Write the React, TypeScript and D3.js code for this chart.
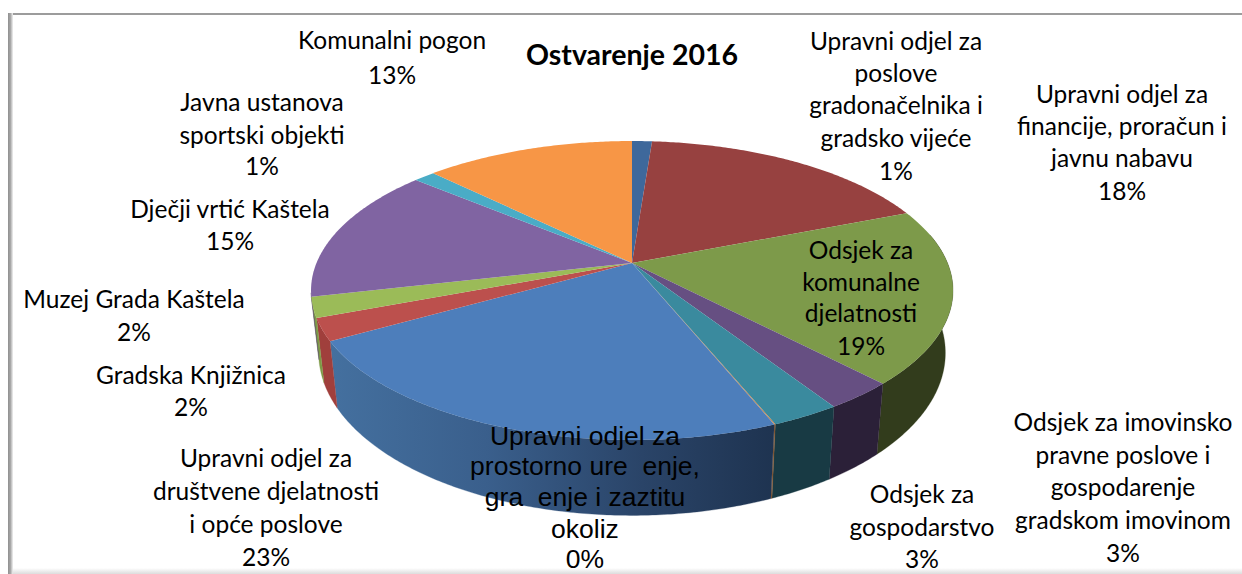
import React from "react";
import * as d3 from "d3";

const W = 1242;
const H = 574;

const categories = [
  "Upravni odjel za poslove gradonačelnika i gradsko vijeće",
  "Upravni odjel za financije, proračun i javnu nabavu",
  "Odsjek za komunalne djelatnosti",
  "Odsjek za imovinsko pravne poslove i gospodarenje gradskom imovinom",
  "Odsjek za gospodarstvo",
  "Upravni odjel za prostorno ure enje, gra enje i zaztitu okoliz",
  "Upravni odjel za društvene djelatnosti i opće poslove",
  "Gradska Knjižnica",
  "Muzej Grada Kaštela",
  "Dječji vrtić Kaštela",
  "Javna ustanova sportski objekti",
  "Komunalni pogon",
];
const values = [1.2, 17.8, 18.9, 3.0, 2.95, 0.05, 22.9, 2.4, 2.2, 14.7, 1.3, 12.6];
const topColors = ["#3e689b", "#974140", "#7d9a4a", "#664f82", "#3a8a9e", "#c8803f", "#4d7ebb", "#bc504d", "#9bbb58", "#8064a2", "#4aacc6", "#f79646"];
const wallColors = ["#2a4668", "#652b2b", "#323c1c", "#2b2038", "#183a44", "#8a5a30", "url(#blueWall)", "#a03f3c", "#7d9a46", "#553f70", "#2f7285", "#a6642e"];

const calibri = "Lato, Carlito, sans-serif";
const arial = "'Liberation Sans', Arial, sans-serif";

type Lbl = { x: number; ys: number[]; lines: string[]; font?: string };
const labels: Lbl[] = [
  { x: 392, ys: [43, 78], lines: ["Komunalni pogon", "13%"] },
  { x: 262, ys: [105, 138, 169], lines: ["Javna ustanova", "sportski objekti", "1%"] },
  { x: 230, ys: [212, 244], lines: ["Dječji vrtić Kaštela", "15%"] },
  { x: 134, ys: [302, 335], lines: ["Muzej Grada Kaštela", "2%"] },
  { x: 191, ys: [378, 410], lines: ["Gradska Knjižnica", "2%"] },
  { x: 266, ys: [461, 494, 527, 560], lines: ["Upravni odjel za", "društvene djelatnosti", "i opće poslove", "23%"] },
  { x: 585, ys: [438, 468, 499, 531, 561], lines: ["Upravni odjel za", "prostorno ure  enje,", "gra  enje i zaztitu", "okoliz", "0%"], font: arial },
  { x: 922, ys: [497, 530, 562], lines: ["Odsjek za", "gospodarstvo", "3%"] },
  { x: 1123, ys: [425, 458, 490, 523, 556], lines: ["Odsjek za imovinsko", "pravne poslove i", "gospodarenje", "gradskom imovinom", "3%"] },
  { x: 1122, ys: [97, 129, 161, 194], lines: ["Upravni odjel za", "financije, proračun i", "javnu nabavu", "18%"] },
  { x: 896, ys: [44, 76, 108, 141, 174], lines: ["Upravni odjel za", "poslove", "gradonačelnika i", "gradsko vijeće", "1%"] },
  { x: 861, ys: [253, 285, 316, 349], lines: ["Odsjek za", "komunalne", "djelatnosti", "19%"] },
];

const CX = 632;
const K = 0.184;
const topFace = { cy: 263, rx: 315.5, ry: 144.4 };
const bottomFace = { cy: 323, rx: 308, ry: 157 };

function project(a: number, f: { cy: number; rx: number; ry: number }): [number, number] {
  const u = Math.sin(a);
  const v = -Math.cos(a);
  const d = 1 - K * v;
  return [CX + (f.rx * u) / d, f.cy + (f.ry * v) / d];
}

function arcAngles(a0: number, a1: number): number[] {
  const n = Math.max(2, Math.ceil((a1 - a0) / 0.01));
  return d3.range(n + 1).map((i) => a0 + ((a1 - a0) * i) / n);
}

export default function App() {
  const arcs = d3.pie<number>().sort(null).value((d) => d)(values);
  const line = d3.line();

  // Only the part of the rim that faces the viewer has a visible wall.
  const walls = arcs
    .map((s, i) => {
      const a0 = Math.max(s.startAngle, Math.PI / 2 - 0.2);
      const a1 = Math.min(s.endAngle, (3 * Math.PI) / 2 - 0.2);
      if (a1 <= a0) return null;
      const as = arcAngles(a0, a1);
      const pts = [...as.map((a) => project(a, topFace)), ...as.slice().reverse().map((a) => project(a, bottomFace))];
      return { i, d: line(pts as [number, number][]) + "Z" };
    })
    .filter(Boolean) as { i: number; d: string }[];

  const apex: [number, number] = [CX, topFace.cy];
  const tops = arcs.map((s, i) => ({
    i,
    d: line([apex, ...arcAngles(s.startAngle, s.endAngle).map((a) => project(a, topFace))] as [number, number][]) + "Z",
  }));

  return (
    <svg width={W} height={H} viewBox={`0 0 ${W} ${H}`} style={{ position: "absolute", left: 0, top: 0, display: "block", background: "#fff" }}>
      <defs>
        <linearGradient id="blueWall" gradientUnits="userSpaceOnUse" x1={330} x2={776} y1={0} y2={0}>
          <stop offset="0" stopColor="#44709f" />
          <stop offset="0.35" stopColor="#3a5f8c" />
          <stop offset="0.7" stopColor="#2a4468" />
          <stop offset="1" stopColor="#1e3350" />
        </linearGradient>
        <linearGradient id="leftEdge" x1="0" x2="1" y1="0" y2="0">
          <stop offset="0" stopColor="#8f8f8f" />
          <stop offset="0.5" stopColor="#a8a8a8" />
          <stop offset="1" stopColor="#f2f2f2" />
        </linearGradient>
        <linearGradient id="bottomEdge" x1="0" x2="0" y1="0" y2="1">
          <stop offset="0" stopColor="#ffffff" />
          <stop offset="1" stopColor="#dcdcdc" />
        </linearGradient>
      </defs>

      <rect x={8} y={13} width={W - 8} height={2} fill="#9c9c9c" />
      <rect x={8} y={13} width={5} height={H - 13} fill="url(#leftEdge)" />
      <rect x={13} y={568} width={W - 13} height={6} fill="url(#bottomEdge)" />

      <g>
        {walls.map((w) => (
          <path key={w.i} d={w.d} fill={wallColors[w.i]} stroke={wallColors[w.i]} strokeWidth={0.3} />
        ))}
      </g>
      <g>
        {tops.map((t) => (
          <path key={t.i} d={t.d} fill={topColors[t.i]} aria-label={categories[t.i]} />
        ))}
      </g>

      <text x={632} y={58} textAnchor="middle" dominantBaseline="middle" fontFamily={calibri} fontWeight={700} fontSize={28.5} fill="#000">
        Ostvarenje 2016
      </text>

      {labels.map((l, i) => (
        <g key={i}>
          {l.lines.map((t, j) => (
            <text
              key={j}
              x={l.x}
              y={l.ys[j]}
              textAnchor="middle"
              dominantBaseline="middle"
              fontFamily={l.font ?? calibri}
              fontSize={l.font ? 26.5 : 24.5}
              fill="#000"
              style={{ whiteSpace: "pre" }}
            >
              {t}
            </text>
          ))}
        </g>
      ))}
    </svg>
  );
}
